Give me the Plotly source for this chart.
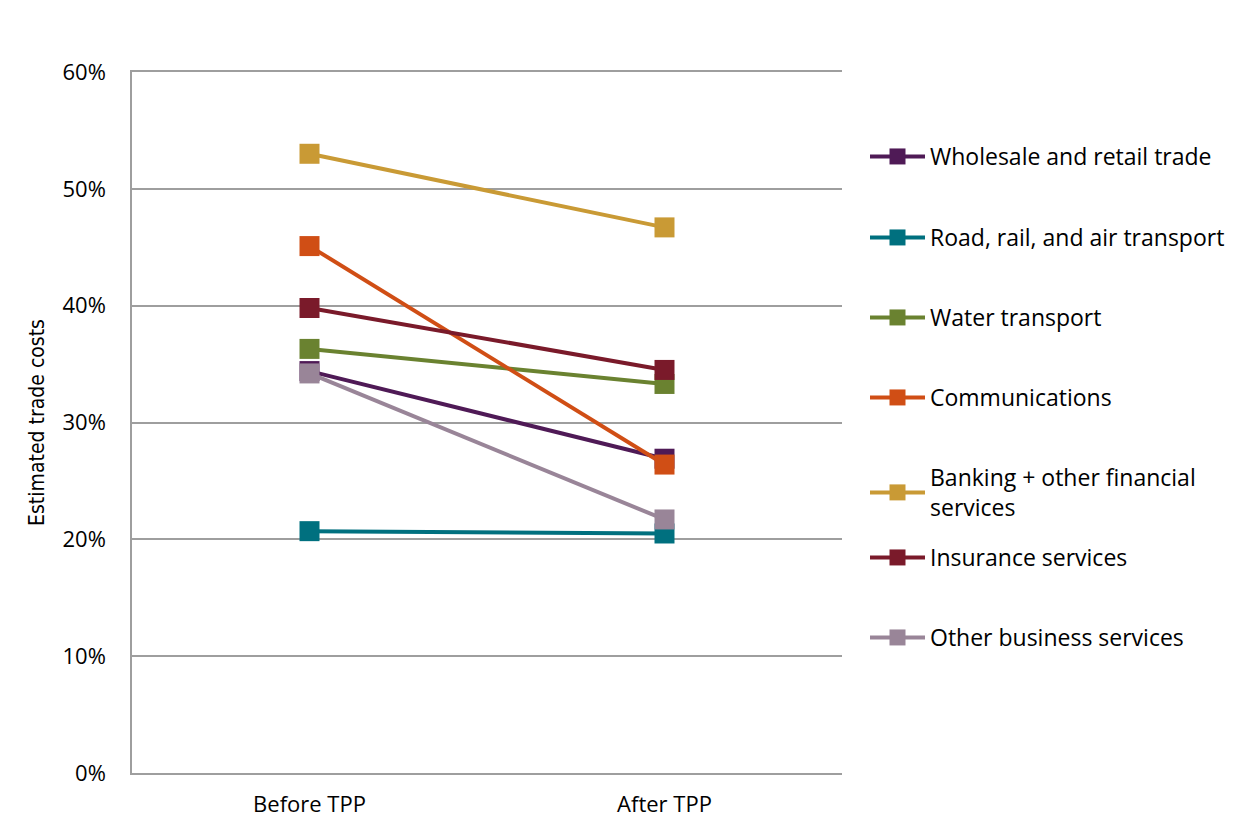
import plotly.graph_objects as go

categories = ["Before TPP", "After TPP"]
series_names = [
    "Wholesale and retail trade",
    "Road, rail, and air transport",
    "Water transport",
    "Communications",
    "Banking + other financial<br>services",
    "Insurance services",
    "Other business services",
]
wholesale = [0.344, 0.269]
road = [0.207, 0.205]
water = [0.363, 0.333]
communications = [0.451, 0.264]
banking = [0.530, 0.467]
insurance = [0.398, 0.345]
other_business = [0.342, 0.217]
colors = ["#4F1A56", "#00707F", "#6A8230", "#D04E15", "#C99A35", "#7A1A2A", "#998598"]

values = [wholesale, road, water, communications, banking, insurance, other_business]

OFF = 8  # default page body margin
W, H = 1251 - OFF, 825 - OFF
# plot area in screen pixels
SL, SR, ST, SB = 132, 842, 72, 773
L, R, T, B = SL - OFF, SR - OFF, ST - OFF, SB - OFF
pw, ph = R - L, B - T


def sx(px):
    return (px - OFF - L) / pw


def sy(py):
    return (B - (py - OFF)) / ph


font_family = "'Open Sans', Lato, sans-serif"
grid_col = "#9E9E9E"
FS = 22

fig = go.Figure()
legend_y_px = [157, 238, 318, 398, 478, 558, 638]
layout_legends = {}
for i, (name, vals, col) in enumerate(zip(series_names, values, colors)):
    lname = "legend" if i == 0 else f"legend{i+1}"
    fig.add_trace(go.Scatter(
        x=categories, y=vals, name=name, mode="lines+markers",
        line=dict(color=col, width=4),
        marker=dict(symbol="square", size=20, color=col),
        legend=lname,
    ))
    layout_legends[lname] = dict(
        x=sx(865), y=sy(legend_y_px[i] - 22),
        xanchor="left", yanchor="top",
        bgcolor="rgba(0,0,0,0)", borderwidth=0,
        font=dict(family=font_family, size=23, color="#000000"),
        itemwidth=55,
    )

fig.update_layout(
    width=W, height=H,
    margin=dict(l=L, r=W - R, t=T, b=H - B, autoexpand=False),
    paper_bgcolor="#FFFFFF",
    plot_bgcolor="#FFFFFF",
    showlegend=True,
    font=dict(family=font_family, size=FS, color="#000000"),
    xaxis=dict(
        type="category", range=[-0.5, 1.5],
        showgrid=False, showline=True, mirror=True,
        linecolor=grid_col, linewidth=1.5,
        ticks="", tickfont=dict(size=FS), zeroline=False,
        ticklabelstandoff=11,
    ),
    yaxis=dict(
        range=[0, 0.6], dtick=0.1, tickformat=".0%",
        showgrid=True, gridcolor=grid_col, gridwidth=1.5,
        showline=True, linecolor=grid_col, linewidth=1.5,
        ticks="", zeroline=False,
        tickfont=dict(size=FS),
        ticklabelstandoff=20,
        title=dict(text="Estimated trade costs",
                   font=dict(size=21, family="'Liberation Sans Narrow', 'DejaVu Sans Condensed', sans-serif"),
                   standoff=12),
    ),
    **layout_legends,
)

fig.write_html("out.html")
